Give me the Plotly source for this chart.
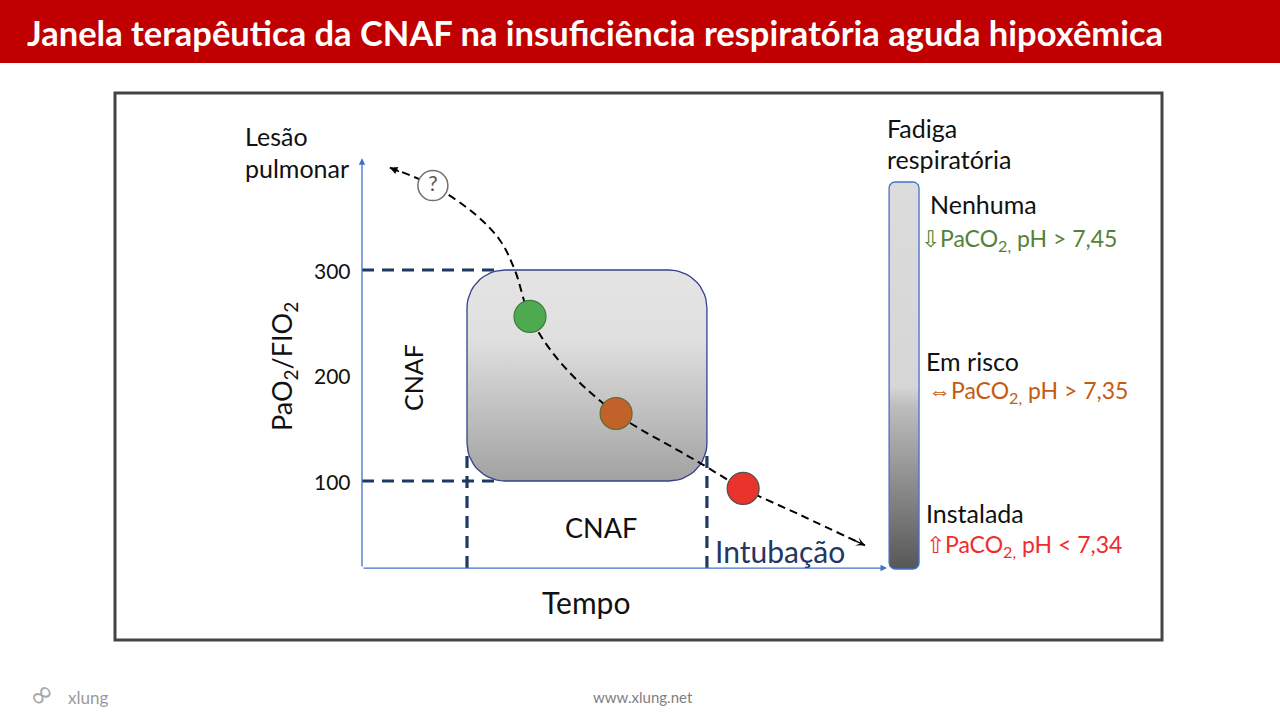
import numpy as np
import plotly.graph_objects as go

# values
pf_ticks = [100, 200, 300]                      # PaO2/FIO2 tick values
cnaf_pf = [100, 300]                            # CNAF band on the PaO2/FIO2 axis
cnaf_time = [2.0, 6.57]                         # CNAF window on the time axis
path_time = [0.53, 1.35, 2.15, 2.63, 2.91, 3.20, 3.77, 4.84, 6.06, 6.44, 7.26, 8.34, 9.58]
path_pf = [397, 380, 353, 328, 300, 256, 213, 164, 128, 117, 93, 68, 39]
stage_time = [3.20, 4.84, 7.26]
stage_pf = [256, 164, 93]
stage_colors = ["#4EAA50", "#C0622A", "#E8342A"]
stage_edges = ["#3F7A3A", "#5F6B2E", "#505050"]
unknown_time = [1.35]
unknown_pf = [380]
fatigue_levels = ["Nenhuma", "Em risco", "Instalada"]
fatigue_gas = ["⇩PaCO<sub>2,</sub> pH > 7,45",
               "⇔PaCO<sub>2,</sub> pH > 7,35",
               "⇧PaCO<sub>2,</sub> pH < 7,34"]
fatigue_colors = ["#548235", "#C55A11", "#F02C2C"]

TITLE = "Janela terapêutica da CNAF na insuficiência respiratória aguda hipoxêmica"

# page geometry (pixels) and how the data axes sit on it
W, H = 1280, 720
X0_PX, PX_X = 362, 52.5       # pixel of time 0, pixels per time unit
Y0_PX, PX_Y = 586.5, 1.055    # pixel of PaO2/FIO2 0, pixels per unit
AX_PF0, AX_PF_TOP, AX_T_END = 17.5, 406, 10.0
BAR_T = [10.04, 10.61]
BAR_PF = [16.6, 383.4]
FONT = "Lato"
NAVY = "#1F3864"
BLUE = "#4472C4"


def px(x, y):
    return x / W, 1 - y / H


def rounded(x0, x1, y0, y1, r):
    rx, ry = r / PX_X, r / PX_Y
    xs, ys = [], []
    for cx, cy, a0 in [(x1 - rx, y1 - ry, 0), (x0 + rx, y1 - ry, 90),
                       (x0 + rx, y0 + ry, 180), (x1 - rx, y0 + ry, 270)]:
        a = np.radians(np.linspace(a0, a0 + 90, 14))
        xs += list(cx + rx * np.cos(a))
        ys += list(cy + ry * np.sin(a))
    return xs + xs[:1], ys + ys[:1]


fig = go.Figure()

# dashed CNAF limits
dx, dy = [], []
for v in cnaf_pf:
    dx += [0, cnaf_time[0] + 0.63, None]
    dy += [v, v, None]
for t in cnaf_time:
    dx += [t, t, None]
    dy += [AX_PF0, 127.5, None]
fig.add_trace(go.Scatter(x=dx, y=dy, mode="lines",
                         line=dict(color=NAVY, width=3.2, dash="12px,8px")))

# CNAF window box
bx, by = rounded(cnaf_time[0], cnaf_time[1], cnaf_pf[0], cnaf_pf[1], 38)
fig.add_trace(go.Scatter(x=bx, y=by, mode="lines", fill="toself",
                         line=dict(color="#33418F", width=1.3),
                         fillgradient=dict(type="vertical",
                                           colorscale=[[0, "#A2A2A2"], [0.68, "#E0E0E0"], [1, "#E4E4E4"]])))

# fatigue bar
rx_, ry_ = rounded(BAR_T[0], BAR_T[1], BAR_PF[0], BAR_PF[1], 6)
fig.add_trace(go.Scatter(x=rx_, y=ry_, mode="lines", fill="toself",
                         line=dict(color=BLUE, width=1.3),
                         fillgradient=dict(type="vertical",
                                           colorscale=[[0, "#575757"], [0.42, "#BDBDBD"],
                                                       [0.47, "#D6D6D6"], [1, "#DCDCDC"]])))

# disease path
fig.add_trace(go.Scatter(x=path_time, y=path_pf, mode="lines",
                         line=dict(color="black", width=2, dash="8px,5px", shape="spline")))
fig.add_trace(go.Scatter(x=stage_time, y=stage_pf, mode="markers",
                         marker=dict(size=32, color=stage_colors,
                                     line=dict(color=stage_edges, width=1.2))))
fig.add_trace(go.Scatter(x=unknown_time, y=unknown_pf, mode="markers+text", text=["?"],
                         textposition="middle center",
                         textfont=dict(family=FONT, size=21, color="#555555"),
                         marker=dict(size=30, color="white", line=dict(color="#707070", width=1.5))))

ann = []
# axes with arrows
ann.append(dict(x=0, y=AX_PF_TOP, ax=0, ay=AX_PF0, xref="x", yref="y", axref="x", ayref="y",
                text="", showarrow=True, arrowhead=2, arrowsize=1, arrowwidth=1.3, arrowcolor=BLUE))
ann.append(dict(x=AX_T_END, y=AX_PF0, ax=0, ay=AX_PF0, xref="x", yref="y", axref="x", ayref="y",
                text="", showarrow=True, arrowhead=2, arrowsize=1, arrowwidth=1.3, arrowcolor=BLUE))
# arrow tips of the path
for i0, i1, head in [(0, 1, 2), (-1, -2, 3)]:
    tx = path_time[i0] + 0.25 * (path_time[i1] - path_time[i0])
    ty = path_pf[i0] + 0.25 * (path_pf[i1] - path_pf[i0])
    ann.append(dict(x=path_time[i0], y=path_pf[i0], ax=tx, ay=ty, xref="x", yref="y",
                    axref="x", ayref="y", text="", showarrow=True, arrowhead=head,
                    arrowsize=1, arrowwidth=1.5, arrowcolor="black"))

# tick labels
for v in pf_ticks:
    ann.append(dict(x=353 / W, y=v, xref="paper", yref="y", text=str(v), showarrow=False,
                    xanchor="right", font=dict(family=FONT, size=21, color="#111")))


def label(text, x, y, size=25, color="#111", xanchor="left", angle=0, family=FONT):
    xp, yp = px(x, y)
    ann.append(dict(x=xp, y=yp, xref="paper", yref="paper", text=text, showarrow=False,
                    xanchor=xanchor, yanchor="middle", textangle=angle,
                    font=dict(family=family, size=size, color=color)))


label("PaO<sub>2</sub>/FIO<sub>2</sub>", 283, 367, size=27, xanchor="center", angle=-90)
label("Lesão", 243, 136)
label("pulmonar", 243, 168)
label("CNAF", 413, 378, size=25, xanchor="center", angle=-90)
label("CNAF", 601, 527, size=27, xanchor="center")
label("Tempo", 586, 602, size=30, xanchor="center")
label("Intubação", 713, 551, size=30, color=NAVY)
label("Fadiga", 885, 128)
label("respiratória", 885, 159)
for name, gas, col, yl, yg, xl, xg in zip(fatigue_levels, fatigue_gas, fatigue_colors,
                                          [204, 361, 513], [240, 392, 545],
                                          [928, 924, 924], [919, 926, 924]):
    label(name, xl, yl)
    label(gas, xg, yg, size=23, color=col)

label("<b>" + TITLE + "</b>", 25, 33, size=34.5, color="white")
label("www.xlung.net", 643, 697, size=15, color="#7F7F7F", xanchor="center")
label("xlung", 66, 697, size=17, color="#9A9A9A")
label("∞", 40, 694, size=30, color="#A8A8A8", xanchor="center", angle=-40, family="DejaVu Sans")

shapes = [
    dict(type="rect", xref="paper", yref="paper", x0=0, x1=1, y0=px(0, 63)[1], y1=1,
         fillcolor="#C00000", line=dict(width=0), layer="below"),
    dict(type="rect", xref="paper", yref="paper", x0=px(115, 0)[0], x1=px(1162, 0)[0],
         y0=px(0, 640)[1], y1=px(0, 93)[1], line=dict(color="#444444", width=3), layer="below"),
]

fig.update_layout(
    width=W, height=H, margin=dict(l=0, r=0, t=0, b=0),
    paper_bgcolor="white", plot_bgcolor="white", showlegend=False,
    xaxis=dict(visible=False, range=[-X0_PX / PX_X, (W - X0_PX) / PX_X], fixedrange=True),
    yaxis=dict(visible=False, range=[(Y0_PX - H) / PX_Y, Y0_PX / PX_Y], fixedrange=True),
    annotations=ann, shapes=shapes, font=dict(family=FONT),
)

fig.write_html("out.html", config={"displayModeBar": False},
               post_script="document.body.style.margin='0';")
